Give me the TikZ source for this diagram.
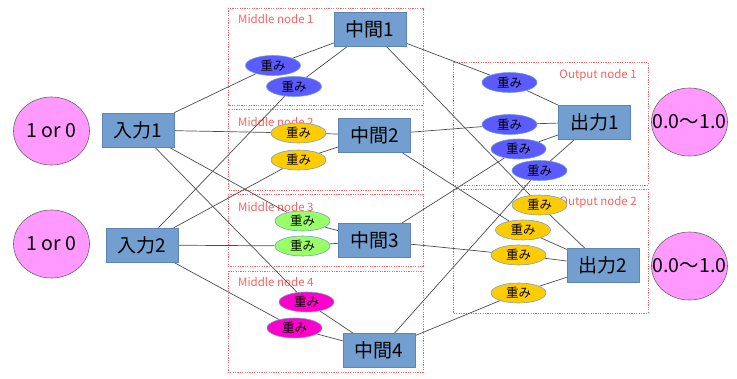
\documentclass[tikz,border=0pt]{standalone}
\usepackage{fontspec}
\setmainfont{Noto Sans CJK JP}
\usetikzlibrary{shapes.geometric,backgrounds}
\definecolor{boxblue}{HTML}{729FCF}
\definecolor{boxedge}{HTML}{5C85B5}
\definecolor{pinkfill}{HTML}{FF99FF}
\definecolor{wblue}{HTML}{5B5BFF}
\definecolor{wgold}{HTML}{FFCC00}
\definecolor{wgreen}{HTML}{99FF66}
\definecolor{wmagenta}{HTML}{FF00CC}
\definecolor{framered}{HTML}{FF5F5F}
\definecolor{wirecol}{HTML}{4D4D4D}

\begin{document}
\begin{tikzpicture}[x=1pt,y=-1pt,
    unit/.style={draw=boxedge,fill=boxblue,line width=0.6pt,minimum width=72pt,
      minimum height=34pt,inner sep=0pt,font=\fontsize{19}{19}\selectfont},
    value/.style={ellipse,draw=gray!80!black,fill=pinkfill,line width=0.6pt,
      minimum width=76pt,minimum height=68pt,inner sep=0pt,font=\fontsize{19.5}{19.5}\selectfont},
    weight/.style={ellipse,draw=boxblue,line width=0.6pt,minimum width=55pt,
      minimum height=20pt,inner sep=0pt,font=\fontsize{12.5}{12.5}\selectfont},
    group/.style={draw=framered,dash pattern=on 1.2pt off 1.2pt,line width=0.7pt},
    grouplabel/.style={text=framered,font=\fontsize{11.5}{11.5}\selectfont,inner sep=0pt},
    wire/.style={draw=wirecol,line width=0.7pt}]
  \useasboundingbox (0,0) rectangle (737,378);

  % dotted groups round each unit
  \begin{scope}[on background layer]
    \draw[group] (228,8) rectangle (423,105);
    \draw[group] (228,109) rectangle (423,190);
    \draw[group] (228,194) rectangle (423,266);
    \draw[group] (228,271) rectangle (423,372);
    \draw[group] (453,62) rectangle (648,185);
    \draw[group] (453,189) rectangle (648,313);
    \node[grouplabel,anchor=west] (lm1) at (238,19) {Middle node 1};
    \node[grouplabel,anchor=west] (lm2) at (238,122) {Middle node 2};
    \node[grouplabel,anchor=west] (lm3) at (238,207) {Middle node 3};
    \node[grouplabel,anchor=west] (lm4) at (238,282) {Middle node 4};
    \node[grouplabel,anchor=east] (lo1) at (637,75) {Output node 1};
    \node[grouplabel,anchor=east] (lo2) at (637,202) {Output node 2};
  \end{scope}

  % inputs, hidden units, outputs
  \node[value] (x1) at (51.5,131) {1 or 0};
  \node[value] (x2) at (51.5,244) {1 or 0};
  \node[unit] (in1) at (138,130) {入力1};
  \node[unit] (in2) at (142,245) {入力2};
  \node[unit] (m1) at (370,29.5) {中間1};
  \node[unit] (m2) at (374.5,135) {中間2};
  \node[unit] (m3) at (374.5,240.5) {中間3};
  \node[unit] (m4) at (379,350.5) {中間4};
  \node[unit] (out1) at (594.5,122) {出力1};
  \node[unit] (out2) at (603,265.5) {出力2};
  \node[value] (y1) at (689.5,122) {\makebox[0pt]{0.0〜1.0}};
  \node[value] (y2) at (689.5,266) {\makebox[0pt]{0.0〜1.0}};

  % weights
  \node[weight,fill=wblue] (w1a) at (273,65.5) {重み};
  \node[weight,fill=wblue] (w1b) at (294,86.5) {重み};
  \node[weight,fill=wgold] (w2a) at (298.5,133) {重み};
  \node[weight,fill=wgold] (w2b) at (298.5,160) {重み};
  \node[weight,fill=wgreen] (w3a) at (302.5,221) {重み};
  \node[weight,fill=wgreen] (w3b) at (302.5,246) {重み};
  \node[weight,fill=wmagenta] (w4a) at (306.5,302) {重み};
  \node[weight,fill=wmagenta] (w4b) at (294.5,328) {重み};
  \node[weight,fill=wblue] (o1a) at (509.5,82.5) {重み};
  \node[weight,fill=wblue] (o1b) at (509.5,124.5) {重み};
  \node[weight,fill=wblue] (o1c) at (518.5,149) {重み};
  \node[weight,fill=wblue] (o1d) at (539.5,170.5) {重み};
  \node[weight,fill=wgold] (o2a) at (539.5,205) {重み};
  \node[weight,fill=wgold] (o2b) at (523,230) {重み};
  \node[weight,fill=wgold] (o2c) at (518.5,255) {重み};
  \node[weight,fill=wgold] (o2d) at (518.5,293) {重み};

  % connections through the weights
  \begin{scope}[on background layer]
    \foreach \s/\w/\t in {in1/w1a/m1, in2/w1b/m1, in1/w2a/m2, in2/w2b/m2,
        in1/w3a/m3, in2/w3b/m3, in1/w4a/m4, in2/w4b/m4,
        m1/o1a/out1, m2/o1b/out1, m3/o1c/out1, m4/o1d/out1,
        m1/o2a/out2, m2/o2b/out2, m3/o2c/out2, m4/o2d/out2}
      \draw[wire] (\s) -- (\w) -- (\t);
  \end{scope}
\end{tikzpicture}
\end{document}
